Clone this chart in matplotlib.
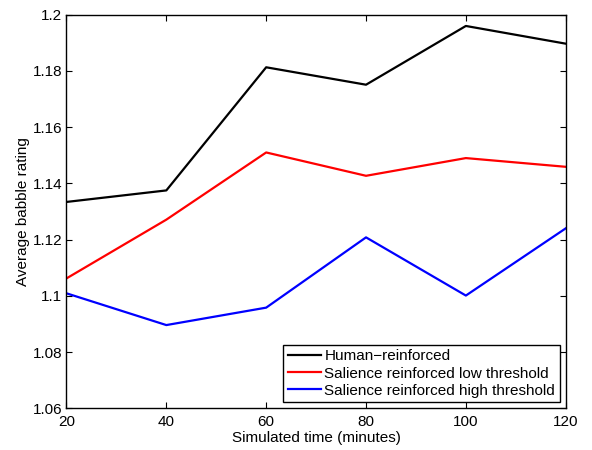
import matplotlib
matplotlib.use("Agg")
import matplotlib.pyplot as plt

time_min = [20, 40, 60, 80, 100, 120]
human = [1.1334, 1.1375, 1.1813, 1.1751, 1.1960, 1.1897]
sal_low = [1.1062, 1.1271, 1.1510, 1.1427, 1.1490, 1.1459]
sal_high = [1.1009, 1.0896, 1.0958, 1.1208, 1.1001, 1.1240]
labels = ["Human\u2212reinforced", "Salience reinforced low threshold",
          "Salience reinforced high threshold"]
yticks = [1.06, 1.08, 1.1, 1.12, 1.14, 1.16, 1.18, 1.2]
ytick_labels = ["1.06", "1.08", "1.1", "1.12", "1.14", "1.16", "1.18", "1.2"]
xticks = [20, 40, 60, 80, 100, 120]

plt.rcParams['font.family'] = ['Liberation Sans', 'DejaVu Sans']
fig = plt.figure(figsize=(5.92, 4.5), dpi=100)
ax = fig.add_axes([0.1123, 0.0927, 0.8433, 0.8746])

ax.plot(time_min, human, color='black', lw=1.6, label=labels[0])
ax.plot(time_min, sal_low, color='#ff0000', lw=1.6, label=labels[1])
ax.plot(time_min, sal_high, color='#0000ff', lw=1.6, label=labels[2])

ax.set_xlim(20, 120)
ax.set_ylim(1.06, 1.2)
ax.set_xticks(xticks)
ax.set_xticklabels([str(x) for x in xticks])
ax.set_yticks(yticks)
ax.set_yticklabels(ytick_labels)
ax.tick_params(direction='in', top=True, right=True, labelsize=11, length=4, width=0.8)
ax.tick_params(axis='x', pad=5)
ax.tick_params(axis='y', pad=3)
for s in ax.spines.values():
    s.set_linewidth(1.0)

ax.set_xlabel("Simulated time (minutes)", fontsize=11, labelpad=1)
ax.set_ylabel("Average babble rating", fontsize=11, labelpad=2)

leg = ax.legend(loc='lower right', fontsize=11, fancybox=False, framealpha=1,
                edgecolor='black', handlelength=2.2, handletextpad=0.2,
                labelspacing=0.2, borderpad=0.3, borderaxespad=0.4)
leg.get_frame().set_linewidth(1.0)

fig.savefig("out.png", dpi=100)
